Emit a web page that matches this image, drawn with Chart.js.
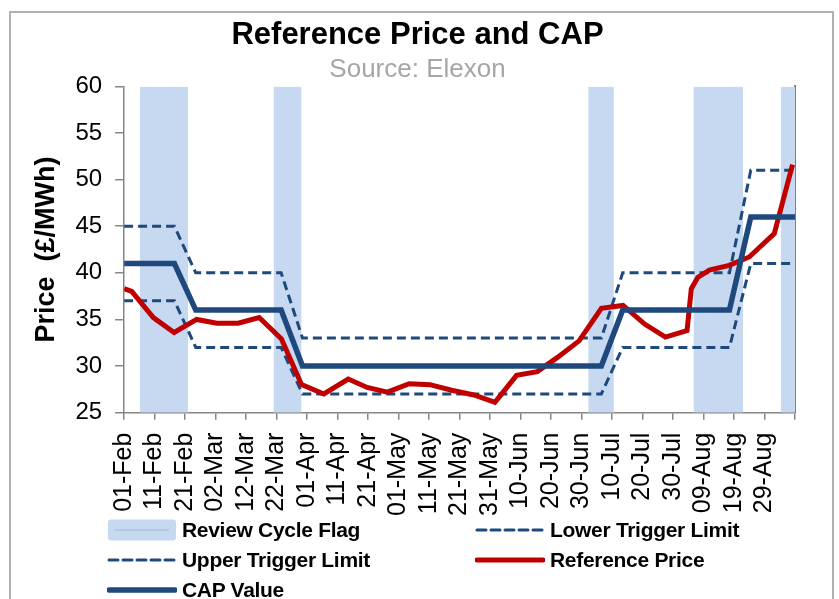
<!DOCTYPE html>
<html>
<head>
<meta charset="utf-8">
<title>Reference Price and CAP</title>
<script src="https://cdn.jsdelivr.net/npm/chart.js@4.4.0/dist/chart.umd.min.js"></script>
<style>
  body{margin:0;background:#fff;font-family:"Liberation Sans",Arial,sans-serif;}
  #wrap{position:relative;width:839px;height:599px;overflow:hidden;}
  #frame{position:absolute;left:9px;top:11px;width:825px;height:640px;border:2px solid #b0b0b0;box-sizing:border-box;}
  #chart{position:absolute;left:0;top:0;}
  #legend{position:absolute;left:107px;top:515px;display:grid;grid-template-columns:368px auto;grid-auto-rows:30px;}
  .item{display:flex;align-items:center;font-weight:bold;font-size:21px;color:#000;letter-spacing:-0.3px;}
  .item svg{margin-right:5px;flex:none;}
</style>
</head>
<body>
<div id="wrap">
  <div id="frame"></div>
  <canvas id="chart" width="839" height="540"></canvas>
  <div id="legend"></div>
</div>
<script>
// x values are days counted from 01-Feb-2012
const months = ['Jan','Feb','Mar','Apr','May','Jun','Jul','Aug','Sep','Oct','Nov','Dec'];

// Review cycle flag periods (start / end day)
const flagStart = [5.2, 49, 152.2, 186.7, 215.3];
const flagEnd   = [21, 58.2, 160.6, 203, 220];

// Trigger limits and CAP
const limitDays  = [0, 16.5, 23.5, 51.5, 58.5, 156.5, 163.5, 198.5, 205.5, 220];
const lowerLimit = [37, 37, 32, 32, 27, 27, 32, 32, 41, 41];
const upperLimit = [45, 45, 40, 40, 33, 33, 40, 40, 51, 51];
const capValue   = [41, 41, 36, 36, 30, 30, 36, 36, 46, 46];

// Reference price
const refDays  = [0, 2.5, 9.6, 16.4, 23.8, 30.4, 37.4, 44.3, 51.6, 58.2, 65.5, 73.5, 79.7, 86.3, 93.5,
                  100.3, 107.4, 114.7, 121.6, 128.7, 135.5, 142, 149.2, 156.5, 163.6, 170.7, 177.5,
                  184.6, 186, 188.1, 191.9, 198.4, 205, 213.2, 219.2];
const refPrice = [38.3, 38.0, 35.2, 33.6, 35.0, 34.6, 34.6, 35.2, 32.9, 28.0, 27.0, 28.6, 27.7, 27.2, 28.1,
                  28.0, 27.4, 26.9, 26.1, 29.0, 29.4, 30.9, 32.7, 36.2, 36.5, 34.5, 33.1,
                  33.8, 38.3, 39.5, 40.3, 40.8, 41.7, 44.2, 51.6];

const pts = (xs, ys) => xs.map((x,i)=>({x:x, y:ys[i]}));

function dayLabel(d){
  const dt = new Date(2012, 1, 1 + d);
  return String(dt.getDate()).padStart(2,'0') + '-' + months[dt.getMonth()];
}

// flag bands: filled segments separated by gaps
const flagPts = [];
flagStart.forEach((s,i)=>{
  flagPts.push({x:s, y:1}, {x:flagEnd[i], y:1}, {x:flagEnd[i], y:null});
});

const blue = '#1f497d';
const red = '#c00000';
const axisGrey = '#868686';
const fam = '"Liberation Sans", Arial, sans-serif';

const datasets = [
  {label:'Review Cycle Flag', data:flagPts, yAxisID:'y2', borderColor:'rgba(0,0,0,0)', borderWidth:0,
   backgroundColor:'#c6d9f1', fill:'start', pointRadius:0, order:5, legendType:'box'},
  {label:'Lower Trigger Limit', data:pts(limitDays, lowerLimit), borderColor:blue, borderWidth:3,
   borderDash:[9,5], pointRadius:0, order:4},
  {label:'Upper Trigger Limit', data:pts(limitDays, upperLimit), borderColor:blue, borderWidth:3,
   borderDash:[9,5], pointRadius:0, order:3},
  {label:'Reference Price', data:pts(refDays, refPrice), borderColor:red, borderWidth:5,
   pointRadius:0, order:2},
  {label:'CAP Value', data:pts(limitDays, capValue), borderColor:blue, borderWidth:5.5,
   pointRadius:0, order:1}
];

const chart = new Chart(document.getElementById('chart'), {
  type:'line',
  data:{datasets:datasets},
  options:{
    responsive:false,
    animation:false,
    layout:{padding:{left:13, right:17, top:0, bottom:11}},
    plugins:{
      legend:{display:false},
      tooltip:{enabled:false},
      title:{display:true, text:'Reference Price and CAP', color:'#000',
             font:{family:fam, size:31, weight:'bold'},
             padding:{top:17, bottom:0}},
      subtitle:{display:true, text:'Source: Elexon', color:'#a6a6a6',
             font:{family:fam, size:26},
             padding:{top:0, bottom:1}}
    },
    scales:{
      x:{type:'linear', min:0, max:220,
         ticks:{stepSize:10, autoSkip:false, minRotation:90, maxRotation:90, color:'#000', padding:13,
                font:{family:fam, size:25},
                callback:v => v >= 220 ? '' : dayLabel(v)},
         grid:{drawOnChartArea:false, tickLength:7, color:axisGrey, lineWidth:1.5},
         border:{color:axisGrey, width:1.5}},
      y:{min:25, max:60,
         ticks:{stepSize:5, color:'#000', padding:13,
                font:{family:fam, size:24}},
         grid:{drawOnChartArea:false, tickLength:9, color:axisGrey, lineWidth:1.5},
         border:{color:axisGrey, width:1.5},
         title:{display:true, text:'Price  (£/MWh)', color:'#000',
                font:{family:fam, size:27, weight:'bold'},
                padding:{top:17, bottom:0}}},
      y2:{position:'right', min:0, max:1,
          ticks:{display:false},
          grid:{drawOnChartArea:false, drawTicks:false},
          border:{color:'#7f7f7f', width:2},
          afterFit: scale => { scale.width = 27; }}
    }
  }
});

// HTML legend built from the datasets
const legend = document.getElementById('legend');
chart.data.datasets.forEach(ds=>{
  const item = document.createElement('div');
  item.className = 'item';
  let sample;
  if (ds.legendType === 'box') {
    sample = `<svg width="70" height="22"><rect x="1" y="0.5" width="68" height="21" rx="3" fill="${ds.backgroundColor}"/>
              <line x1="8" y1="11" x2="62" y2="11" stroke="#b4c7e7" stroke-width="2"/></svg>`;
  } else {
    const dash = ds.borderDash ? `stroke-dasharray="${ds.borderDash.join(',')}"` : '';
    sample = `<svg width="70" height="10"><line x1="2" y1="5" x2="68" y2="5" stroke="${ds.borderColor}"
              stroke-width="${ds.borderWidth}" ${dash} stroke-linecap="round"/></svg>`;
  }
  item.innerHTML = sample + `<span>${ds.label}</span>`;
  legend.appendChild(item);
});
</script>
</body>
</html>
